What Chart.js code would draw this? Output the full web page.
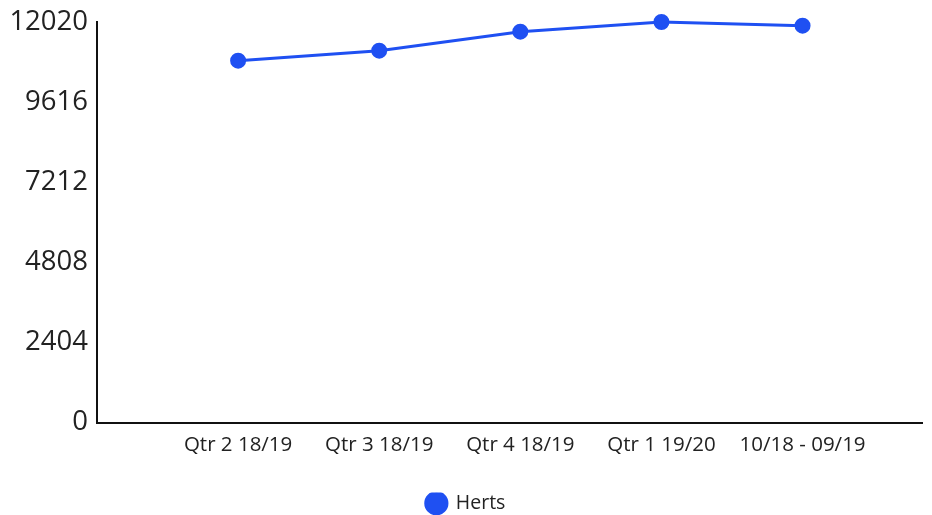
<!DOCTYPE html>
<html>
<head>
<meta charset="utf-8">
<script src="https://cdn.jsdelivr.net/npm/chart.js@4/dist/chart.umd.min.js"></script>
<style>
  html, body { margin: 0; padding: 0; background: #fff; }
  #wrap { width: 932px; height: 515px; }
</style>
</head>
<body>
<div id="wrap"><canvas id="chart"></canvas></div>
<script>
const categories = ["Qtr 2 18/19", "Qtr 3 18/19", "Qtr 4 18/19", "Qtr 1 19/20", "10/18 - 09/19"];
const hertsValues = [10860, 11160, 11730, 12020, 11910];
const yTicks = [0, 2404, 4808, 7212, 9616, 12020];

// points sit at 1..5 on a linear x axis, the axis starts at 0
const points = hertsValues.map((v, i) => ({ x: i + 1, y: v }));

const ctx = document.getElementById("chart").getContext("2d");
const chart = new Chart(ctx, {
  type: "line",
  data: {
    datasets: [{
      label: "Herts",
      data: points,
      borderColor: "#1f50f2",
      backgroundColor: "#0a3cff",
      pointBackgroundColor: "#1f50f2",
      pointBorderColor: "#1f50f2",
      borderWidth: 3,
      pointRadius: 6.5,
      tension: 0,
      clip: false
    }]
  },
  options: {
    responsive: true,
    maintainAspectRatio: false,
    animation: false,
    // legend adds 10px of empty space under itself, pull it down
    layout: { padding: { top: 22, right: 0, left: 0, bottom: -8 } },
    plugins: {
      tooltip: { enabled: false },
      legend: {
        position: "bottom",
        labels: {
          usePointStyle: true,
          pointStyle: "circle",
          boxHeight: 15,
          boxWidth: 22,
          padding: 1,
          color: "#222",
          font: { family: "Open Sans", size: 19.5 }
        }
      }
    },
    scales: {
      x: {
        type: "linear",
        min: 0,
        max: 5.85,
        grid: { display: false },
        border: { display: true, color: "#111", width: 2 },
        ticks: {
          stepSize: 1,
          autoSkip: false,
          maxRotation: 0,
          padding: 2,
          color: "#222",
          font: { family: "Open Sans", size: 20.5 },
          callback: (v) => Number.isInteger(v) && v >= 1 ? categories[v - 1] : ""
        },
        afterFit: (scale) => { scale.height = 70; }
      },
      y: {
        min: 0,
        max: yTicks[yTicks.length - 1],
        grid: { display: false },
        border: { display: true, color: "#111", width: 2 },
        afterBuildTicks: (scale) => { scale.ticks = yTicks.map((v) => ({ value: v })); },
        ticks: {
          padding: 1,
          color: "#222",
          font: { family: "Open Sans", size: 27.5 },
          callback: (v) => String(v)
        },
        afterFit: (scale) => { scale.width = 97; }
      }
    }
  }
});
</script>
</body>
</html>
